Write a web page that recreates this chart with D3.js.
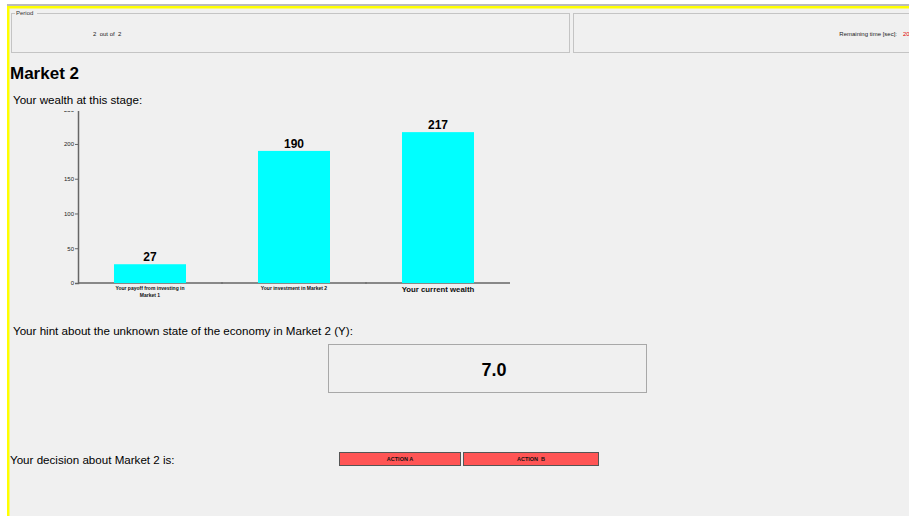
<!DOCTYPE html>
<html>
<head>
<meta charset="utf-8">
<script src="https://cdnjs.cloudflare.com/ajax/libs/d3/7.8.5/d3.min.js"></script>
<style>
  body { margin: 0; padding: 0; background: #fff; overflow: hidden; }
  text { font-family: "Liberation Sans", Arial, sans-serif; }
</style>
</head>
<body>
<script>

var categories = ["Your payoff from investing in|Market 1", "Your investment in Market 2", "Your current wealth"];
var values = [27, 190, 217];
var yTicks = [0, 50, 100, 150, 200, 250];
var hintValue = "7.0";
var periodNow = 2, periodTotal = 2;

var svg = d3.select("body").append("svg")
  .attr("width", 909).attr("height", 516);

// page background + frame
svg.append("rect").attr("x", 0).attr("y", 0).attr("width", 909).attr("height", 516).attr("fill", "#ffffff");
svg.append("rect").attr("x", 7).attr("y", 6).attr("width", 902).attr("height", 510).attr("fill", "#f0f0f0");
svg.append("line").attr("x1", 7).attr("x2", 909).attr("y1", 5).attr("y2", 5).attr("stroke", "#777").attr("stroke-width", 1);
svg.append("rect").attr("x", 7).attr("y", 6).attr("width", 902).attr("height", 2.5).attr("fill", "#ffff00");
svg.append("rect").attr("x", 7).attr("y", 6).attr("width", 2.5).attr("height", 510).attr("fill", "#ffff00");

// top panels
svg.append("rect").attr("x", 11.5).attr("y", 13.5).attr("width", 558).attr("height", 39)
  .attr("fill", "none").attr("stroke", "#c4c4c4");
svg.append("rect").attr("x", 15).attr("y", 10).attr("width", 22).attr("height", 6).attr("fill", "#f0f0f0");
svg.append("text").attr("x", 16).attr("y", 15).attr("font-size", 6).attr("fill", "#333").text("Period");
svg.append("text").attr("x", 93).attr("y", 36).attr("font-size", 6).attr("fill", "#222")
  .attr("xml:space", "preserve").text(periodNow + "  out of  " + periodTotal);

svg.append("rect").attr("x", 573.5).attr("y", 13.5).attr("width", 340).attr("height", 39)
  .attr("fill", "none").attr("stroke", "#c4c4c4");
svg.append("text").attr("x", 897).attr("y", 36).attr("font-size", 6).attr("fill", "#222")
  .attr("text-anchor", "end").text("Remaining time [sec]:");
svg.append("text").attr("x", 903).attr("y", 36).attr("font-size", 6).attr("fill", "#e00000").text("20");

// headings
svg.append("text").attr("x", 10).attr("y", 79).attr("font-size", 17).attr("font-weight", "bold").attr("fill", "#000").text("Market 2");
svg.append("text").attr("x", 13).attr("y", 104).attr("font-size", 11.6).attr("fill", "#000").text("Your wealth at this stage:");

// chart
var x = d3.scaleBand().domain(categories).range([78, 510]).paddingInner(0).paddingOuter(0);
var y = d3.scaleLinear().domain([0, 250]).range([283, 109.2]);

svg.append("defs").append("clipPath").attr("id", "clipTop")
  .append("rect").attr("x", -100).attr("y", 111).attr("width", 909).attr("height", 400);

var yAxis = svg.append("g").attr("transform", "translate(78,0)")
  .attr("clip-path", "url(#clipTop)")
  .call(d3.axisLeft(y).tickValues(yTicks).tickSize(3).tickPadding(1));
yAxis.selectAll("text").attr("font-size", 6).attr("fill", "#222");
yAxis.selectAll("line").attr("stroke", "#666");
yAxis.select(".domain").attr("stroke", "#666").attr("stroke-width", 1.5);

var xAxis = svg.append("g").attr("transform", "translate(0,283)");
xAxis.append("line").attr("x1", 78).attr("x2", 510).attr("y1", 0).attr("y2", 0)
  .attr("stroke", "#666").attr("stroke-width", 1.5);
xAxis.selectAll(".sep").data(categories.slice(1)).enter().append("line")
  .attr("x1", function(d){ return x(d); }).attr("x2", function(d){ return x(d); })
  .attr("y1", -1).attr("y2", 1).attr("stroke", "#666");

var barW = x.bandwidth() / 2;
svg.selectAll(".bar").data(values).enter().append("rect")
  .attr("class", "bar")
  .attr("x", function(d, i){ return x(categories[i]) + (x.bandwidth() - barW) / 2; })
  .attr("y", function(d){ return y(d); })
  .attr("width", barW)
  .attr("height", function(d){ return y(0) - y(d); })
  .attr("fill", "#00ffff");

svg.selectAll(".val").data(values).enter().append("text")
  .attr("x", function(d, i){ return x(categories[i]) + x.bandwidth() / 2; })
  .attr("y", function(d){ return y(d) - 3; })
  .attr("text-anchor", "middle").attr("font-size", 12).attr("font-weight", "bold").attr("fill", "#000")
  .text(function(d){ return d; });

// category labels
categories.forEach(function(c, i){
  var lines = c.split("|");
  var big = (i === categories.length - 1);
  var t = svg.append("text")
    .attr("x", x(c) + x.bandwidth() / 2)
    .attr("y", big ? 292 : 289.5)
    .attr("text-anchor", "middle")
    .attr("font-size", big ? 7.8 : 5)
    .attr("font-weight", "bold")
    .attr("fill", "#111");
  lines.forEach(function(l, j){
    t.append("tspan").attr("x", x(c) + x.bandwidth() / 2).attr("dy", j === 0 ? 0 : 7).text(l);
  });
});

// hint
svg.append("text").attr("x", 13).attr("y", 335).attr("font-size", 11.6).attr("fill", "#000")
  .text("Your hint about the unknown state of the economy in Market 2 (Y):");
svg.append("rect").attr("x", 328.5).attr("y", 344.5).attr("width", 318).attr("height", 48)
  .attr("fill", "#f0f0f0").attr("stroke", "#a8a8a8");
svg.append("text").attr("x", 494).attr("y", 376).attr("text-anchor", "middle")
  .attr("font-size", 18).attr("font-weight", "bold").attr("fill", "#000").text(hintValue);

// decision
svg.append("text").attr("x", 10).attr("y", 464).attr("font-size", 11.6).attr("fill", "#000")
  .text("Your decision about Market 2 is:");

var buttons = [{label: "ACTION A", x: 339.5, w: 121}, {label: "ACTION  B", x: 463.5, w: 135}];
buttons.forEach(function(b){
  svg.append("rect").attr("x", b.x).attr("y", 452.5).attr("width", b.w).attr("height", 13)
    .attr("fill", "#ff5555").attr("stroke", "#555");
  svg.append("text").attr("x", b.x + b.w / 2).attr("y", 461).attr("text-anchor", "middle")
    .attr("font-size", 5.5).attr("font-weight", "bold").attr("fill", "#111")
    .attr("xml:space", "preserve").text(b.label);
});

</script>
</body>
</html>
